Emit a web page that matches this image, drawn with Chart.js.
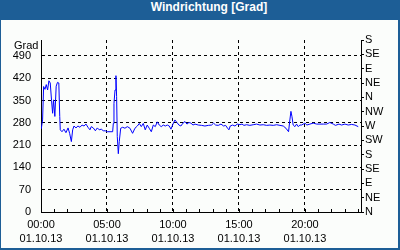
<!DOCTYPE html>
<html>
<head>
<meta charset="utf-8">
<script src="https://cdn.jsdelivr.net/npm/chart.js@4"></script>
<style>
    body { margin: 0; }
    #frame { position: relative; width: 400px; height: 250px; background: #1d5e96; overflow: hidden; }
    #title { position: absolute; left: 0; top: 0; width: 418px; height: 20px; line-height: 20px; text-align: center;
             color: #fff; font: bold 12px "Liberation Sans", sans-serif; }
    #inner { position: absolute; left: 1px; top: 20px; width: 397px; height: 228px; background: #fbfdfb; }
</style>
</head>
<body>
<div id="frame">
    <div id="title">Windrichtung [Grad]</div>
    <div id="inner"><canvas id="windChart" width="397" height="228"></canvas></div>
</div>
<script>
// hours since 00:00 on 01.10.13
const hours = [0.02, 0.12, 0.2, 0.3, 0.4, 0.5, 0.6, 0.7, 0.8, 0.88, 0.95, 1.05, 1.15, 1.25, 1.35, 1.42, 1.46,
    1.59, 1.74, 1.89, 2.05, 2.17, 2.3, 2.4, 2.5, 2.65, 2.8, 2.95, 3.11, 3.26, 3.41, 3.56, 3.71, 3.81, 3.96,
    4.12, 4.27, 4.41, 4.57, 4.72, 4.87, 5.02, 5.23, 5.43, 5.48, 5.53, 5.61, 5.68, 5.73, 5.78, 5.86, 5.93,
    6.04, 6.19, 6.36, 6.54, 6.74, 6.94, 7.12, 7.3, 7.45, 7.6, 7.75, 7.9, 8.05, 8.2, 8.36, 8.51, 8.66, 8.81,
    8.96, 9.11, 9.27, 9.42, 9.57, 9.72, 9.85, 10.0, 10.15, 10.3, 10.45, 10.6, 10.76, 10.91, 11.06, 11.21,
    11.36, 11.52, 11.67, 11.92, 12.17, 12.42, 12.68, 12.93, 13.08, 13.23, 13.43, 13.64, 13.84, 13.99, 14.14,
    14.24, 14.34, 14.52, 14.7, 14.87, 15.08, 15.23, 15.38, 15.58, 15.83, 16.08, 16.34, 16.59, 16.84, 17.1,
    17.35, 17.6, 17.86, 18.11, 18.36, 18.56, 18.76, 18.86, 18.94, 19.02, 19.11, 19.24, 19.37, 19.5, 19.62,
    19.75, 20.0, 20.15, 20.38, 20.63, 20.89, 21.14, 21.39, 21.64, 21.89, 22.15, 22.32, 22.58, 22.78, 23.03,
    23.28, 23.54, 23.79, 24.04];
const direction = [261, 289, 394, 385, 400, 383, 412, 405, 350, 310, 352, 300, 395, 407, 405, 300, 258,
    252, 260, 249, 264, 247, 221, 258, 270, 264, 270, 266, 273, 270, 276, 266, 258, 268, 264,
    255, 264, 258, 260, 255, 255, 252, 252, 252, 278, 341, 383, 428, 362, 237, 183, 221,
    263, 266, 263, 268, 263, 247, 263, 270, 278, 268, 278, 258, 273, 263, 252, 273, 268, 283,
    273, 268, 273, 270, 273, 270, 260, 276, 289, 281, 273, 270, 279, 284, 276, 281,
    279, 273, 276, 273, 272, 270, 272, 273, 279, 273, 272, 276, 270, 272, 263,
    258, 270, 273, 270, 276, 274, 276, 272, 274, 272, 274, 276, 273, 274, 272,
    273, 272, 274, 272, 270, 263, 252, 289, 316, 299, 273, 268, 276, 268, 273,
    273, 279, 273, 276, 279, 276, 276, 276, 276, 281, 276, 272, 276, 273, 276,
    273, 275, 273, 268];

const leftTicks = [0, 70, 140, 210, 280, 350, 420, 490];
const compass = ['N', 'NE', 'E', 'SE', 'S', 'SW', 'W', 'NW', 'N', 'NE', 'E', 'SE', 'S'];
const timeTicks = [0, 5, 10, 15, 20];
const dayLabel = '01.10.13';

const tickFont = { family: 'Liberation Sans', size: 11, lineHeight: 1.3 };

// "Grad" caption and the hourly ticks on the time axis
const extras = {
    id: 'extras',
    afterDraw(chart) {
        const c = chart.ctx;
        const x = chart.scales.x;
        const bottom = chart.chartArea.bottom;
        c.save();
        c.fillStyle = '#000';
        c.font = '11px "Liberation Sans"';
        c.textAlign = 'left';
        c.textBaseline = 'middle';
        c.fillText('Grad', 13, 26);
        c.strokeStyle = '#000';
        c.lineWidth = 1;
        for (let h = 1; h <= 24; h++) {
            const px = Math.round(x.getPixelForValue(h)) + 0.5;
            c.beginPath();
            c.moveTo(px, bottom);
            c.lineTo(px, bottom - 3);
            c.stroke();
        }
        c.restore();
    }
};

const ctx = document.getElementById('windChart').getContext('2d');
new Chart(ctx, {
    type: 'line',
    data: {
        datasets: [{
            data: hours.map((h, i) => ({ x: h, y: direction[i] })),
            borderColor: '#0000ff',
            borderWidth: 1,
            pointRadius: 0,
            tension: 0
        }]
    },
    options: {
        responsive: false,
        animation: false,
        devicePixelRatio: 1,
        layout: { padding: { top: 20, left: 0, right: 0, bottom: 0 } },
        plugins: { legend: { display: false }, tooltip: { enabled: false } },
        scales: {
            x: {
                type: 'linear',
                min: 0,
                max: 24.25,
                afterBuildTicks: s => { s.ticks = timeTicks.map(v => ({ value: v })); },
                afterFit: s => { s.height = 36; },
                ticks: {
                    color: '#000',
                    font: tickFont,
                    padding: 6,
                    maxRotation: 0,
                    autoSkip: false,
                    callback: v => [String(v).padStart(2, '0') + ':00', dayLabel]
                },
                grid: { color: '#000', drawTicks: false },
                border: { color: '#000', dash: [3, 3] }
            },
            y: {
                position: 'left',
                min: 0,
                max: 540,
                afterBuildTicks: s => { s.ticks = leftTicks.map(v => ({ value: v })); },
                afterFit: s => { s.width = 40; },
                ticks: { color: '#000', font: tickFont, padding: 10, autoSkip: false },
                grid: { color: '#000', drawTicks: false },
                border: { color: '#000', dash: [3, 3] }
            },
            y2: {
                position: 'right',
                min: 0,
                max: 540,
                afterBuildTicks: s => { s.ticks = compass.map((c, i) => ({ value: i * 45 })); },
                afterFit: s => { s.width = 37; },
                ticks: { color: '#000', font: tickFont, padding: 1, autoSkip: false, callback: (v, i) => compass[i] },
                grid: { color: '#000', drawOnChartArea: false, tickLength: 3 },
                border: { color: '#000' }
            }
        }
    },
    plugins: [extras]
});
</script>
</body>
</html>
